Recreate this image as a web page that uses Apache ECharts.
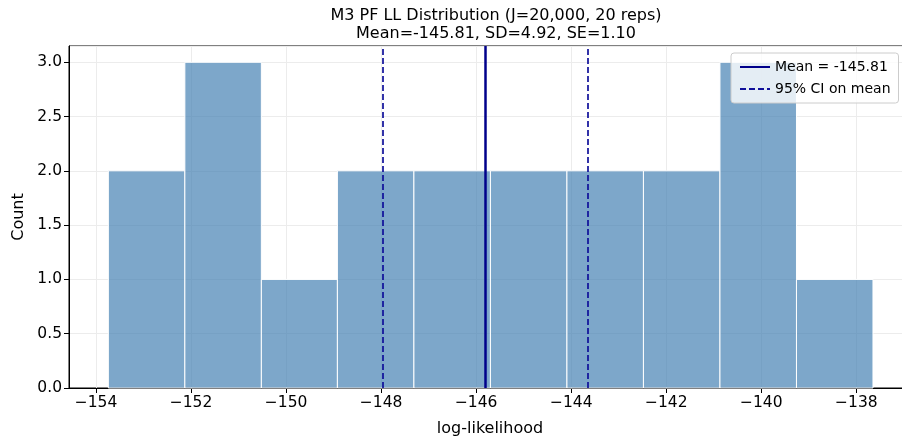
<!DOCTYPE html>
<html>
<head>
<meta charset="utf-8">
<script src="https://cdn.jsdelivr.net/npm/echarts@6/dist/echarts.min.js"></script>
<style>
  html, body { margin: 0; padding: 0; background: #fff; overflow: hidden; }
  /* the original figure's right spine falls just outside the 902px frame */
  #main { width: 912px; height: 442px; }
</style>
</head>
<body>
<div id="main"></div>
<script>
// histogram of the 20 replicate log-likelihoods
var binEdges = [-153.74, -152.13, -150.52, -148.92, -147.31, -145.70,
                -144.09, -142.48, -140.87, -139.26, -137.65];
var counts = [2, 3, 1, 2, 2, 2, 2, 2, 3, 1];
var meanLL = -145.81;
var ciLow = -147.97;
var ciHigh = -143.65;
var xTicks = [-154, -152, -150, -148, -146, -144, -142, -140, -138];

var chart = echarts.init(document.getElementById('main'));

var histData = counts.map(function (c, i) {
  return [binEdges[i], binEdges[i + 1], c];
});

var font = 'DejaVu Sans';

var option = {
  animation: false,
  textStyle: { fontFamily: font },
  title: {
    text: 'M3 PF LL Distribution (J=20,000, 20 reps)\nMean=-145.81, SD=4.92, SE=1.10',
    left: 491,
    textAlign: 'center',
    top: 2,
    textStyle: { fontSize: 16, fontWeight: 'normal', color: '#000', lineHeight: 18, fontFamily: font }
  },
  legend: {
    orient: 'vertical',
    left: 731,
    top: 53,
    padding: [7, 8, 7, 8],
    itemGap: 8,
    itemWidth: 30,
    itemHeight: 12,
    backgroundColor: 'rgba(255,255,255,0.8)',
    borderColor: '#cccccc',
    borderWidth: 1,
    borderRadius: 3,
    itemStyle: { opacity: 0 },
    textStyle: { fontSize: 14, color: '#000', fontFamily: font },
    data: ['Mean = -145.81', '95% CI on mean']
  },
  grid: {
    left: 69,
    right: 1,
    top: 46,
    bottom: 54,
    show: true,
    borderColor: '#000',
    borderWidth: 1,
    backgroundColor: 'transparent'
  },
  xAxis: {
    type: 'value',
    min: -154.568,
    max: -136.85,
    name: 'log-likelihood',
    nameLocation: 'middle',
    nameGap: 33,
    nameTextStyle: { fontSize: 16, color: '#000', fontFamily: font },
    axisLine: { lineStyle: { color: '#000', width: 1 } },
    axisTick: { show: true, length: 5, lineStyle: { color: '#000' }, customValues: xTicks },
    axisLabel: {
      fontSize: 15.5, color: '#000', margin: 7, customValues: xTicks,
      formatter: function (v) { return String(v).replace('-', '\u2212'); }
    },
    splitLine: { show: false }
  },
  yAxis: {
    type: 'value',
    min: 0,
    max: 3.15,
    interval: 0.5,
    name: 'Count',
    nameLocation: 'middle',
    nameGap: 42,
    nameTextStyle: { fontSize: 16, color: '#000', fontFamily: font },
    axisLine: { show: true, lineStyle: { color: '#000', width: 1 } },
    axisTick: { show: true, length: 5, lineStyle: { color: '#000' } },
    axisLabel: {
      fontSize: 15.5, color: '#000', margin: 7,
      showMaxLabel: false,
      formatter: function (v) { return v > 3.01 ? '' : v.toFixed(1); }
    },
    splitLine: { show: true, lineStyle: { color: '#ececec', width: 1 } }
  },
  series: [
    {
      // vertical grid lines at tick positions, kept under the bars
      type: 'line',
      data: [],
      silent: true,
      z: 0,
      markLine: {
        z: 0,
        silent: true,
        symbol: 'none',
        label: { show: false },
        lineStyle: { color: '#ececec', width: 1, type: 'solid' },
        data: xTicks.map(function (t) { return { xAxis: t }; })
      }
    },
    {
      type: 'custom',
      name: 'hist',
      z: 2,
      data: histData,
      encode: { x: [0, 1], y: 2 },
      renderItem: function (params, api) {
        var p0 = api.coord([api.value(0), api.value(2)]);
        var p1 = api.coord([api.value(1), 0]);
        return {
          type: 'rect',
          shape: { x: p0[0], y: p0[1], width: p1[0] - p0[0], height: p1[1] - p0[1] },
          style: { fill: 'rgba(70,130,180,0.7)', stroke: '#ffffff', lineWidth: 1 }
        };
      }
    },
    {
      name: 'Mean = -145.81',
      type: 'line',
      data: [],
      symbol: 'none',
      z: 5,
      color: '#00008b',
      lineStyle: { color: '#00008b', width: 2.5 },
      markLine: {
        silent: true,
        symbol: 'none',
        label: { show: false },
        lineStyle: { color: '#00008b', width: 2.5, type: 'solid' },
        data: [{ xAxis: meanLL }]
      }
    },
    {
      name: '95% CI on mean',
      type: 'line',
      data: [],
      symbol: 'none',
      z: 5,
      color: '#10109a',
      lineStyle: { color: '#10109a', width: 1.7, type: [6, 3] },
      markLine: {
        silent: true,
        symbol: 'none',
        label: { show: false },
        lineStyle: { color: '#10109a', width: 1.7, type: [6, 3] },
        data: [{ xAxis: ciLow }, { xAxis: ciHigh }]
      }
    }
  ]
};

chart.setOption(option);
</script>
</body>
</html>
